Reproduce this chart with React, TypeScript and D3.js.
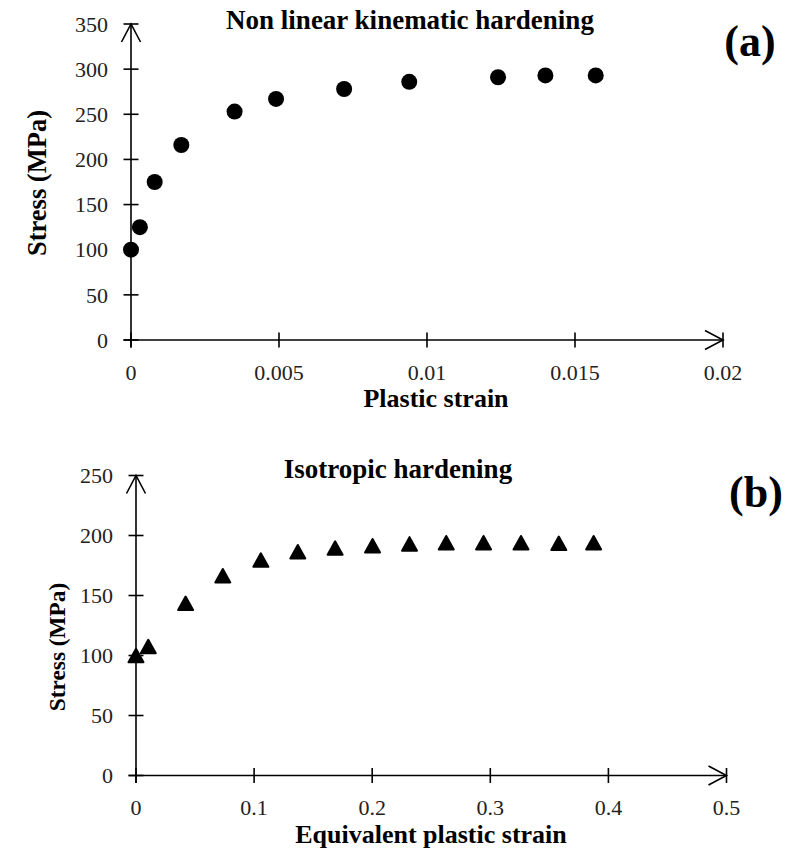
import React from "react";
import * as d3 from "d3";

// Panel (a): Non linear kinematic hardening
const kinStrain = [0, 0.0003, 0.0008, 0.0017, 0.0035, 0.0049, 0.0072, 0.0094, 0.0124, 0.014, 0.0157];
const kinStress = [100, 125, 175, 216, 253, 267, 278, 286, 291, 293, 293];
const kinXTicks = [0, 0.005, 0.01, 0.015, 0.02];
const kinYTicks = [0, 50, 100, 150, 200, 250, 300, 350];

// Panel (b): Isotropic hardening
const isoStrain = [0, 0.0104, 0.042, 0.0735, 0.1057, 0.137, 0.1686, 0.2003, 0.2316, 0.2627, 0.2943, 0.326, 0.358, 0.3875];
const isoStress = [100, 107.5, 143.5, 166.5, 179.5, 186.5, 189.5, 191.5, 193, 194, 194, 194, 193.5, 194];
const isoXTicks = [0, 0.1, 0.2, 0.3, 0.4, 0.5];
const isoYTicks = [0, 50, 100, 150, 200, 250];

const FONT = "'Liberation Serif', 'Times New Roman', serif";

type PanelProps = {
  xDomain: [number, number];
  yDomain: [number, number];
  xRange: [number, number];
  yRange: [number, number];
  xTicks: number[];
  yTicks: number[];
  xFmt: (v: number) => string;
  tickLabelBaseline: number;
  title: string;
  titleX: number;
  titleY: number;
  tag: string;
  tagX: number;
  tagY: number;
  xLabel: string;
  xLabelX: number;
  xLabelY: number;
  yLabelX: number;
  yLabelY: number;
  yLabelSize: number;
  children: (x: d3.ScaleLinear<number, number>, y: d3.ScaleLinear<number, number>) => React.ReactNode;
};

function Panel(p: PanelProps) {
  const x = d3.scaleLinear().domain(p.xDomain).range(p.xRange);
  const y = d3.scaleLinear().domain(p.yDomain).range(p.yRange);
  const x0 = x(p.xDomain[0]);
  const x1 = x(p.xDomain[1]);
  const y0 = y(p.yDomain[0]);
  const y1 = y(p.yDomain[1]);
  const tl = 7.5;
  const aL = 18;
  const aW = 9.5;
  const sw = 1.6;
  return (
    <g>
      {/* axes */}
      <line x1={x0 - tl} x2={x1} y1={y0} y2={y0} stroke="#000" strokeWidth={sw} />
      <line x1={x0} x2={x0} y1={y0 + tl} y2={y1} stroke="#000" strokeWidth={sw} />
      {/* arrowheads */}
      <path d={`M${x0 - aW},${y1 + aL}L${x0},${y1}L${x0 + aW},${y1 + aL}`} fill="none" stroke="#000" strokeWidth={sw} />
      <path d={`M${x1 - aL},${y0 - aW}L${x1},${y0}L${x1 - aL},${y0 + aW}`} fill="none" stroke="#000" strokeWidth={sw} />
      {/* y ticks */}
      {p.yTicks.map((t) => (
        <g key={"y" + t}>
          <line x1={x0 - tl} x2={x0 + tl} y1={y(t)} y2={y(t)} stroke="#000" strokeWidth={sw} />
          <text x={x0 - 23} y={y(t)} dy="0.35em" textAnchor="end" fontFamily={FONT} fontSize={22} fill="#222">
            {t}
          </text>
        </g>
      ))}
      {/* x ticks */}
      {p.xTicks.map((t) => (
        <g key={"x" + t}>
          <line x1={x(t)} x2={x(t)} y1={y0 - tl} y2={y0 + tl} stroke="#000" strokeWidth={sw} />
          <text x={x(t)} y={p.tickLabelBaseline} textAnchor="middle" fontFamily={FONT} fontSize={22} fill="#222">
            {p.xFmt(t)}
          </text>
        </g>
      ))}
      {p.children(x, y)}
      <text x={p.titleX} y={p.titleY} textAnchor="middle" fontFamily={FONT} fontWeight="bold" fontSize={27}>
        {p.title}
      </text>
      <text x={p.tagX} y={p.tagY} textAnchor="middle" fontFamily={FONT} fontWeight="bold" fontSize={44}>
        {p.tag}
      </text>
      <text x={p.xLabelX} y={p.xLabelY} textAnchor="middle" fontFamily={FONT} fontWeight="bold" fontSize={26}>
        {p.xLabel}
      </text>
      <text
        transform={`translate(${p.yLabelX},${p.yLabelY}) rotate(-90)`}
        textAnchor="middle"
        fontFamily={FONT}
        fontWeight="bold"
        fontSize={p.yLabelSize}
      >
        Stress (MPa)
      </text>
    </g>
  );
}

function trianglePath(cx: number, cy: number, w: number, h: number) {
  const path = d3.path();
  path.moveTo(cx, cy - h / 2);
  path.lineTo(cx + w / 2, cy + h / 2);
  path.lineTo(cx - w / 2, cy + h / 2);
  path.closePath();
  return path.toString();
}

export default function App() {
  const fmt = (v: number) => (v === 0 ? "0" : String(+v.toFixed(3)));
  return (
    <svg
      width={786}
      height={851}
      style={{ position: "absolute", left: 0, top: 0, background: "#fff" }}
    >
      <Panel
        xDomain={[0, 0.02]}
        yDomain={[0, 350]}
        xRange={[131, 723]}
        yRange={[340, 24]}
        xTicks={kinXTicks}
        yTicks={kinYTicks}
        xFmt={fmt}
        tickLabelBaseline={380}
        title="Non linear kinematic hardening"
        titleX={410}
        titleY={29}
        tag="(a)"
        tagX={750}
        tagY={56}
        xLabel="Plastic strain"
        xLabelX={436}
        xLabelY={407}
        yLabelX={46}
        yLabelY={183}
        yLabelSize={26.5}
      >
        {(x, y) =>
          kinStrain.map((s, i) => <circle key={i} cx={x(s)} cy={y(kinStress[i])} r={8} fill="#000" />)
        }
      </Panel>
      <Panel
        xDomain={[0, 0.5]}
        yDomain={[0, 250]}
        xRange={[136, 726.5]}
        yRange={[775.5, 475.5]}
        xTicks={isoXTicks}
        yTicks={isoYTicks}
        xFmt={fmt}
        tickLabelBaseline={815}
        title="Isotropic hardening"
        titleX={398}
        titleY={478}
        tag="(b)"
        tagX={756}
        tagY={507}
        xLabel="Equivalent plastic strain"
        xLabelX={431}
        xLabelY={843}
        yLabelX={65}
        yLabelY={647}
        yLabelSize={23.3}
      >
        {(x, y) =>
          isoStrain.map((s, i) => (
            <path
              key={i}
              d={trianglePath(x(s), y(isoStress[i]), 15, 13.5)}
              fill="#000"
              stroke="#000"
              strokeWidth={2}
              strokeLinejoin="round"
            />
          ))
        }
      </Panel>
    </svg>
  );
}
